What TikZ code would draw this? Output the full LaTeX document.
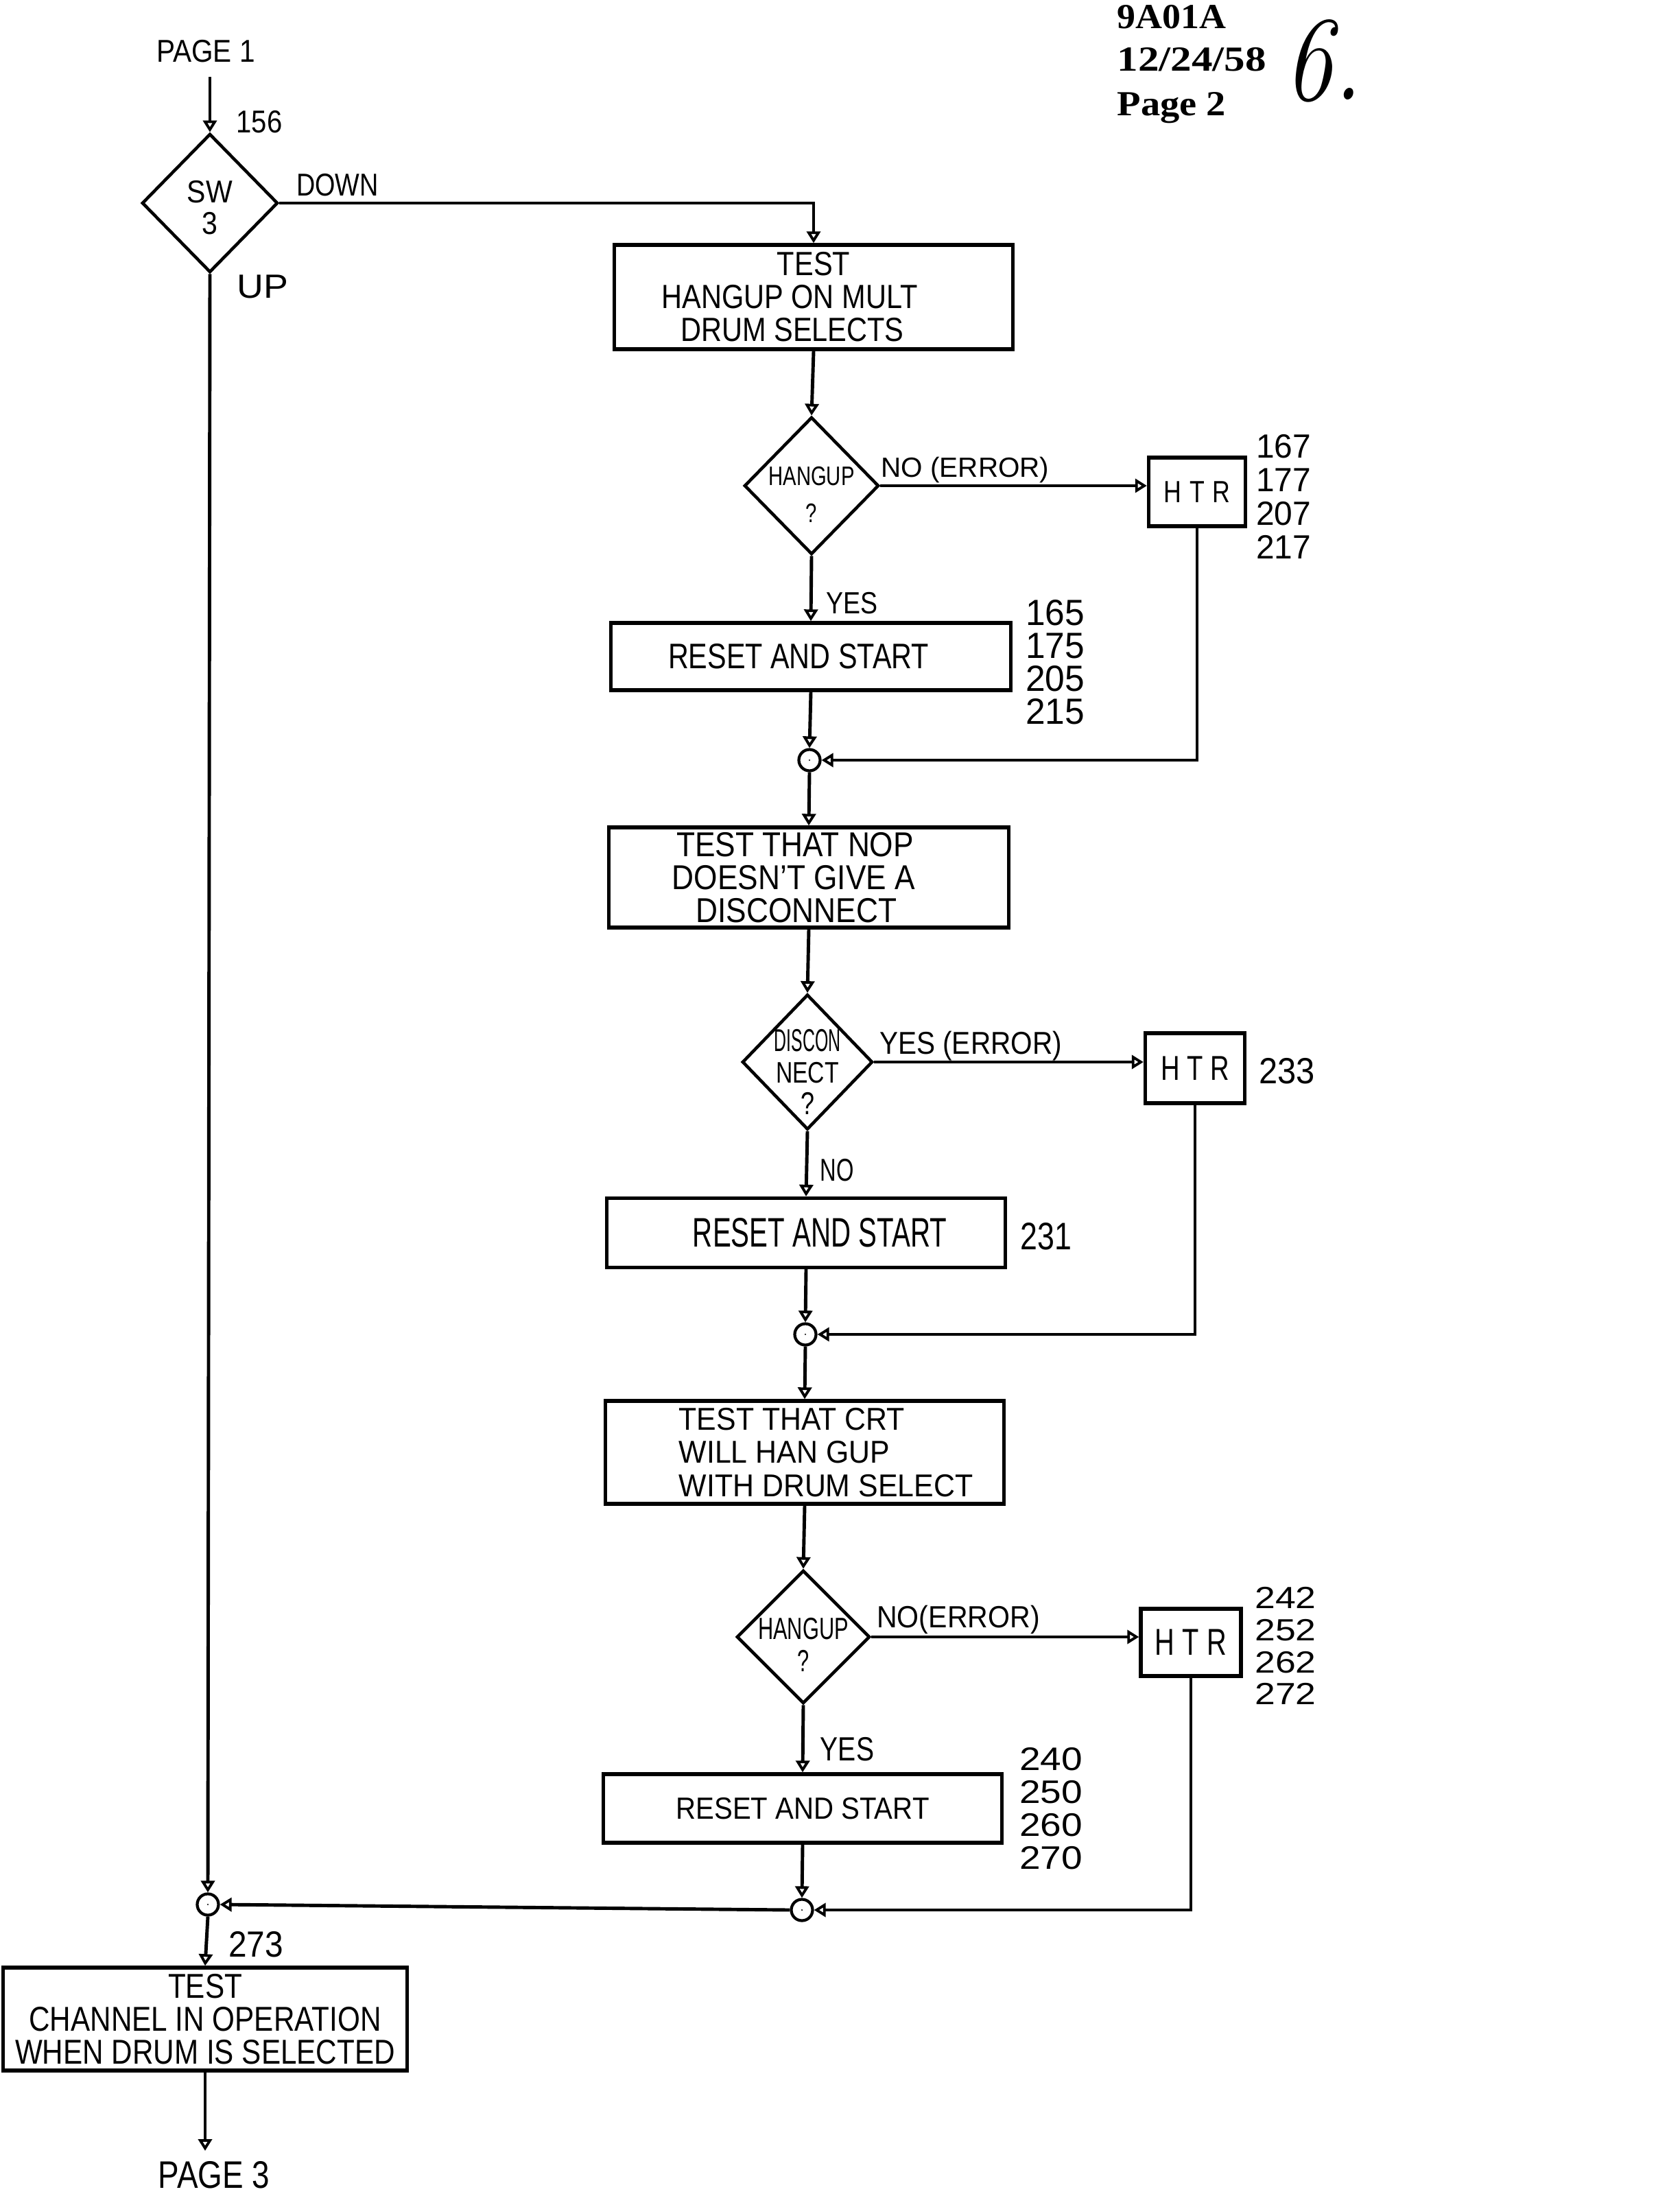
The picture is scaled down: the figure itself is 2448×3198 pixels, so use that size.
\documentclass[tikz,border=0pt]{standalone}
\usepackage{fontspec}
\usepackage{graphicx}
\usetikzlibrary{shapes.geometric,arrows.meta}
\newcommand\HD[1]{\fontspec[FakeStretch=#1]{Liberation Serif}\bfseries\fontsize{14.6pt}{18pt}\selectfont}
\newcommand\LS[4][]{\fontspec[FakeStretch=#3,#1]{Liberation Sans}\fontsize{#2pt}{#4pt}\selectfont}
\newcommand\htr[1]{H\kern#1 T\kern#1 R}
\begin{document}
\begin{tikzpicture}[x=0.01cm,y=-0.01cm,
  ln/.style={line width=1.4pt},
  arr/.style={ln,-{Triangle[open,length=0.17cm,width=0.2cm,line width=1.1pt]}},
  box/.style={draw,line width=1.5pt,rectangle,inner sep=0pt,align=center},
  dec/.style={draw,diamond,line width=1.3pt,inner sep=0pt},
  jn/.style={draw,circle,line width=1.2pt,minimum size=0.31cm,inner sep=0pt,
    path picture={\fill (path picture bounding box.center) circle (0.012cm);}},
  lbl/.style={inner sep=0pt,align=center},
  hl/.style={inner sep=0pt}
]
\useasboundingbox (0,0) rectangle (2448,3198);

% header
\node[hl,anchor=base west,font=\HD{1.05}] (hd1) at (1628,42) {9A01A};
\node[hl,anchor=base west,font=\HD{1.19}] (hd2) at (1628,104) {12/24/58};
\node[hl,anchor=base west,font=\HD{1.1}] (hd3) at (1628,169) {Page 2};
\node[hl,anchor=base west] (hand) at (1872,146) {\scalebox{0.8}[1]{\normalfont\itshape\fontsize{50pt}{50pt}\selectfont 6.}};

% start
\node[lbl,font=\LS{13.1}{0.88}{13.1}] (pg1) at (300,75) {PAGE 1};
\coordinate (p1) at (306,112);
\node[lbl,font=\LS{13.1}{0.87}{13.1}] (l156) at (378,178) {156};
\node[dec,minimum width=1.98cm,minimum height=2.02cm,
  label={[lbl,yshift=-0.07cm,font=\LS{13.1}{0.89}{13.1}]center:{SW\\3}}] (sw) at (306,296) {};
\node[lbl,font=\LS{13.1}{0.82}{13.1}] (ldown) at (492,270) {DOWN};
\node[lbl,font=\LS{13.9}{1.1}{13.9}] (lup) at (383,418) {UP};

% block 1
\node[box,minimum width=5.81cm,minimum height=1.52cm,font=\LS{13.9}{0.85}{13.7}] (b1) at (1186,433)
  {TEST\\\hspace*{-0.7cm}HANGUP ON MULT\\\hspace*{-0.62cm}DRUM SELECTS};
\node[dec,minimum width=1.96cm,minimum height=2.0cm,
  label={[lbl,yshift=-0.13cm,font=\LS{11.1}{0.75}{15.4}]center:{HANGUP\\?}}] (d2) at (1183,708) {};
\node[lbl,font=\LS{11.5}{1.0}{11.5}] (lno1) at (1407,685) {NO (ERROR)};
\node[box,minimum width=1.41cm,minimum height=1.0cm,font=\LS{12.7}{0.8}{12.7}] (h1) at (1745,717) {\htr{3.4pt}};
\node[lbl,font=\LS{13.9}{0.98}{13.9}] (n1) at (1871,724) {167\\177\\207\\217};
\node[lbl,font=\LS{12.7}{0.84}{12.7}] (lyes1) at (1242,879) {YES};
\node[box,minimum width=5.82cm,minimum height=0.98cm,font=\LS{14.7}{0.8}{14.7}] (b2) at (1182,957)
  {\hspace*{-0.36cm}RESET AND START};
\node[lbl,font=\LS{15.1}{0.97}{13.7}] (n2) at (1538,965) {165\\175\\205\\215};
\node[jn] (c1) at (1180,1108) {};

% block 2
\node[box,minimum width=5.82cm,minimum height=1.46cm,font=\LS{14.3}{0.88}{13.7}] (b3) at (1179,1279)
  {\hspace*{-0.4cm}TEST THAT NOP\\\hspace*{-0.44cm}DOESN’T GIVE A\\\hspace*{-0.36cm}DISCONNECT};
\node[dec,minimum width=1.90cm,minimum height=1.97cm,
  label={[lbl,yshift=-0.14cm,font=\LS{13.1}{0.78}{13.1}]center:{{\LS{13.1}{0.54}{13.1}DISCON}\\{\LS{12.3}{0.78}{13.1}NECT}\\?}}] (d3) at (1177,1548) {};
\node[lbl,font=\LS{13.1}{0.88}{13.1}] (lyes2) at (1415,1525) {YES (ERROR)};
\node[box,minimum width=1.45cm,minimum height=1.02cm,font=\LS{14.3}{0.76}{14.3}] (h2) at (1742,1557) {\htr{3pt}};
\node[lbl,font=\LS{15.1}{0.92}{15.1}] (n233) at (1876,1561) {233};
\node[lbl,font=\LS{13.1}{0.71}{13.1}] (lno2) at (1220,1706) {NO};
\node[box,minimum width=5.81cm,minimum height=1.01cm,font=\LS{17.1}{0.67}{17.1}] (b4) at (1175,1797)
  {RESET AND START\hspace*{-0.4cm}};
\node[lbl,font=\LS{15.9}{0.8}{15.9}] (n231) at (1525,1802) {231};
\node[jn] (c2) at (1174,1945) {};

% block 3
\node[box,align=left,minimum width=5.81cm,minimum height=1.50cm,font=\LS{13.1}{0.93}{13.8}] (b5) at (1173,2117)
  {\hspace*{0.62cm}TEST THAT CRT\\\hspace*{0.62cm}WILL HAN GUP\\\hspace*{0.62cm}WITH DRUM SELECT};
\node[dec,minimum width=1.94cm,minimum height=1.94cm,
  label={[lbl,yshift=-0.11cm,font=\LS{12.7}{0.69}{13.4}]center:{HANGUP\\?}}] (d4) at (1171,2386) {};
\node[lbl,font=\LS{12.7}{0.92}{12.7}] (lno3) at (1397,2361) {NO(ERROR)};
\node[box,minimum width=1.46cm,minimum height=0.98cm,font=\LS{15.5}{0.73}{15.5}] (h3) at (1736,2394) {\htr{3.2pt}};
\node[lbl,font=\LS{12.7}{1.2}{13.3}] (n3) at (1874,2399) {242\\252\\262\\272};
\node[lbl,font=\LS{13.9}{0.8}{13.9}] (lyes3) at (1235,2550) {YES};
\node[box,minimum width=5.81cm,minimum height=1.0cm,font=\LS{12.7}{0.9}{12.7}] (b6) at (1170,2636)
  {RESET AND START};
\node[lbl,font=\LS{13.5}{1.16}{13.7}] (n4) at (1532,2636) {240\\250\\260\\270};
\node[jn] (c3) at (1169,2784) {};

% end
\node[jn] (c0) at (303,2776) {};
\node[lbl,font=\LS{15.1}{0.9}{15.1}] (n273) at (373,2834) {273};
\node[box,minimum width=5.88cm,minimum height=1.50cm,font=\LS{14.3}{0.84}{13.7}] (b7) at (299,2943)
  {TEST\\CHANNEL IN OPERATION\\WHEN DRUM IS SELECTED};
\coordinate (p3) at (299,3135);
\node[lbl,font=\LS{15.9}{0.82}{15.9}] (pg3) at (312,3170) {PAGE 3};

% connectors
\draw[arr] (p1) -- (sw.north);
\draw[arr] (sw.east) -| (b1.north);
\draw[arr] (b1.south) -- (d2.north);
\draw[arr] (d2.east) -- (d2.east -| h1.west);
\draw[arr] (d2.south) -- (b2.north);
\draw[arr] (b2.south) -- (c1.north);
\draw[arr] (h1.south) |- (c1.east);
\draw[arr] (c1.south) -- (b3.north);
\draw[arr] (b3.south) -- (d3.north);
\draw[arr] (d3.east) -- (d3.east -| h2.west);
\draw[arr] (d3.south) -- (b4.north);
\draw[arr] (b4.south) -- (c2.north);
\draw[arr] (h2.south) |- (c2.east);
\draw[arr] (c2.south) -- (b5.north);
\draw[arr] (b5.south) -- (d4.north);
\draw[arr] (d4.east) -- (d4.east -| h3.west);
\draw[arr] (d4.south) -- (b6.north);
\draw[arr] (b6.south) -- (c3.north);
\draw[arr] (h3.south) |- (c3.east);
\draw[arr] (c3.west) -- (c0.east);
\draw[arr] (sw.south) -- (c0.north);
\draw[arr] (c0.south) -- (b7.north);
\draw[arr] (b7.south) -- (p3);
\end{tikzpicture}
\end{document}
